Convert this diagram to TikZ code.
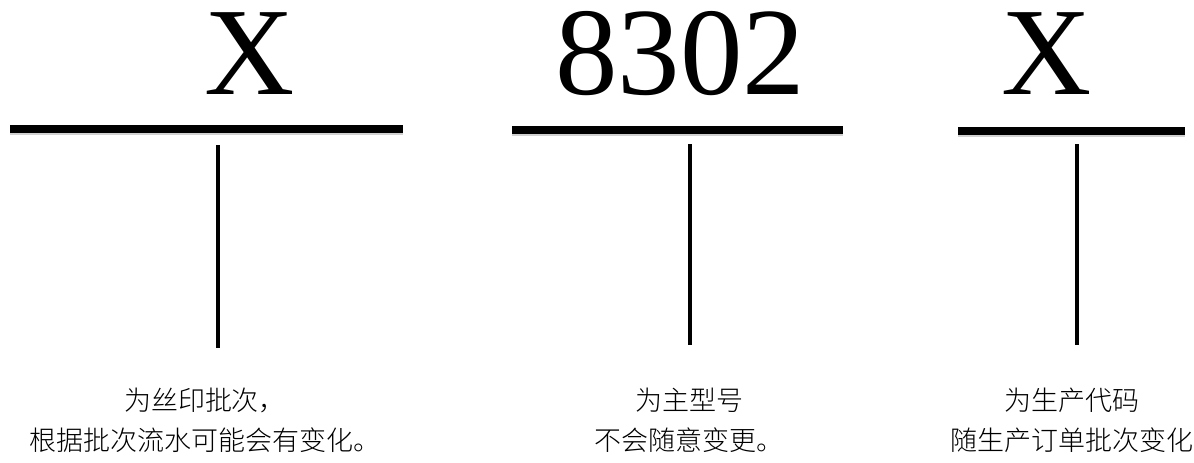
\documentclass[tikz,border=0pt]{standalone}
\usepackage{fontspec}
\setmainfont{Liberation Serif}
\newfontfamily\cjk{Noto Sans CJK SC}[UprightFont={* Light}]
\usetikzlibrary{positioning}

\begin{document}
\begin{tikzpicture}[
    x=1pt, y=-1pt,
    codetext/.style={font=\fontsize{125}{125}\selectfont, inner sep=0pt, anchor=base},
    bar/.style={line width=7.5pt, preaction={draw=black!18, line width=7.5pt, transform canvas={yshift=-2pt}}},
    stem/.style={line width=4.5pt},
    notetext/.style={font=\cjk\fontsize{27}{40}\selectfont, align=center, inner sep=0pt, anchor=north}
]
    \useasboundingbox (0,0) rectangle (1194,463);

    % Code segments:
    \node[codetext] (part1) at (250,94) {X};
    \node[codetext] (part2) at (680,94) {8302};
    \node[codetext] (part3) at (1047,94) {X};

    % Bars under the segments:
    \coordinate (bar1l) at (10,129);
    \coordinate (bar1r) at (403,129);
    \coordinate (bar2l) at (512,130);
    \coordinate (bar2r) at (843,130);
    \coordinate (bar3l) at (958,131);
    \coordinate (bar3r) at (1185,131);
    \draw[bar] (bar1l) -- (bar1r);
    \draw[bar] (bar2l) -- (bar2r);
    \draw[bar] (bar3l) -- (bar3r);

    % Stems and notes:
    \coordinate (top1) at (218,145);
    \coordinate (foot1) at (218,348);
    \coordinate (top2) at (690,144);
    \coordinate (foot2) at (690,345);
    \coordinate (top3) at (1077,144);
    \coordinate (foot3) at (1077,345);
    \draw[stem] (top1) -- (foot1);
    \draw[stem] (top2) -- (foot2);
    \draw[stem] (top3) -- (foot3);

    \node[notetext] (note1) at (205,388) {为丝印批次，\\根据批次流水可能会有变化。};
    \node[notetext] (note2) at (689,388) {为主型号\\不会随意变更。};
    \node[notetext] (note3) at (1072,388) {为生产代码\\随生产订单批次变化};
\end{tikzpicture}
\end{document}
